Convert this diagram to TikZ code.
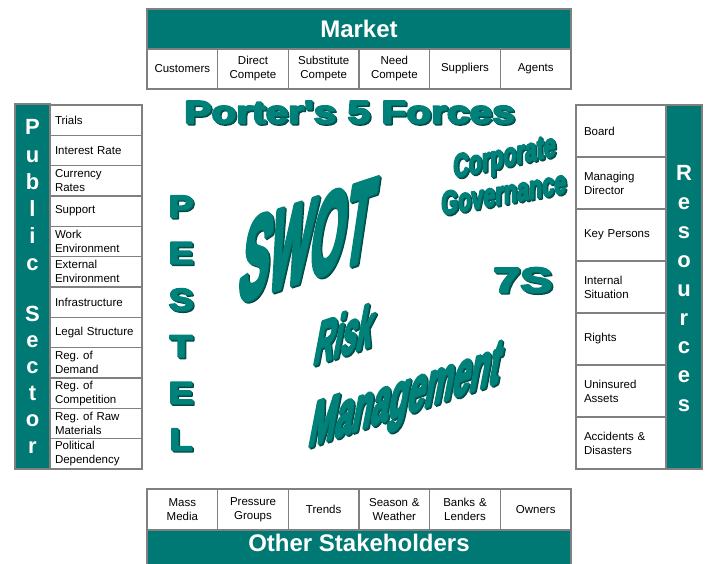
\documentclass[tikz,border=0pt]{standalone}
\usepackage{fontspec}
\setmainfont{Liberation Sans}
\newfontfamily\heavyfont[BoldFeatures={FakeBold=5}]{Liberation Sans}
\frenchspacing
\definecolor{teal1}{RGB}{0,120,115}
\definecolor{wateal}{RGB}{0,130,122}
\definecolor{wadark}{RGB}{0,70,66}
\definecolor{wamid}{RGB}{0,98,93}
\definecolor{bord}{RGB}{128,128,128}
\tikzset{
 banner/.style={draw=bord, line width=1.6pt, fill=teal1, text=white, inner sep=0pt,
   font=\fontsize{24}{28}\selectfont\bfseries},
 vbar/.style={draw=bord, line width=1.6pt, fill=teal1, inner sep=0pt},
 cellfont/.style={font=\fontsize{11.5}{14}\selectfont},
 hcell/.style={draw=bord, line width=1.6pt, fill=white, cellfont, inner ysep=0pt,
   minimum height=40pt, inner xsep=3pt, text width=64.67pt, align=center},
 lcell/.style={draw=bord, line width=1.6pt, fill=white, cellfont, inner ysep=0pt,
   minimum height=30.33pt, inner xsep=5pt, text width=82pt, align=left},
 rcell/.style={draw=bord, line width=1.6pt, fill=white, cellfont, inner ysep=0pt,
   minimum height=52pt, inner xsep=8pt, text width=74pt, align=left},
 vlet/.style={anchor=base, inner sep=0pt, text=white, font=\fontsize{22}{22}\selectfont\bfseries},
 wa/.style={transform shape, inner sep=0pt, text=wateal},
 waw/.style={nodes={anchor=base west}},
 wac/.style={nodes={anchor=base}},
}
% #1 name, #2 x, #3 y, #4 scope transform/options, #5 text
\newcommand\wart[5]{%
 \begin{scope}[line join=round, shift={({#2+1.8},{#3-1.8})},#4] \node[wa,text=wadark] at (0,0) {#5}; \end{scope}
 \begin{scope}[line join=round, shift={({#2+0.9},{#3-0.9})},#4] \node[wa,text=wamid] at (0,0) {#5}; \end{scope}
 \begin{scope}[line join=round, shift={({#2},{#3})},#4] \node[wa] (#1) at (0,0) {#5}; \end{scope}}
\begin{document}
\begin{tikzpicture}[x=1pt,y=1pt]
\useasboundingbox (0,0) rectangle (706,-564);
\fill[white] (0,0) rectangle (706,-564);

% Market
\node[banner, minimum width=424pt, minimum height=40pt] (market) at (359,-29) {Market};
\foreach \t [count=\i] in {Customers,{Direct\\Compete},{Substitute\\Compete},{Need\\Compete},Suppliers,Agents}
  \node[hcell] (mk\i) at ({147+70.67*(\i-0.5)},-69) {\t};

% Other stakeholders
\foreach \t [count=\i] in {{Mass\\Media},{Pressure\\Groups},Trends,{Season \&\\Weather},{Banks \&\\Lenders},Owners}
  \node[hcell, minimum height=41pt] (os\i) at ({147+70.67*(\i-0.5)},-509.5) {\t};
\node[banner, minimum width=424pt, minimum height=40pt, text depth=14pt] (stake) at (359,-550) {Other Stakeholders};

% Public sector
\node[vbar, minimum width=35pt, minimum height=365pt] (pubsec) at (32.5,-286.5) {};
\foreach \t [count=\i] in {Trials,Interest Rate,{Currency\\Rates},Support,{Work\\Environment},{External\\Environment},Infrastructure,Legal Structure,{Reg. of\\Demand},{Reg. of\\Competition},{Reg. of Raw\\Materials},{Political\\Dependency}}
  \node[lcell] (ps\i) at (96,{-(105+30.33*(\i-0.5))}) {\t};
\foreach \c [count=\i] in {P,u,b,l,i,c}
  \node[vlet] (pub\i) at (32.5,{-(135+27.1*(\i-1))}) {\c};
\foreach \c [count=\i] in {S,e,c,t,o,r}
  \node[vlet] (sec\i) at (32.5,{-(321+26.4*(\i-1))}) {\c};

% Resources
\node[vbar, minimum width=36pt, minimum height=364pt] (res) at (684,-287) {};
\foreach \t [count=\i] in {Board,{Managing\\Director},Key Persons,{Internal\\Situation},Rights,{Uninsured\\Assets},{Accidents \&\\Disasters}}
  \node[rcell] (rs\i) at (621,{-(105+52*(\i-0.5))}) {\t};
\foreach \c [count=\i] in {R,e,s,o,u,r,c,e,s}
  \node[vlet] (resl\i) at (684,{-(181+28.8*(\i-1))}) {\c};

% Word art
\wart{porter}{184}{-123}{waw, xscale=1.27, nodes={font=\fontsize{32}{32}\selectfont\heavyfont\bfseries}}{Porter's 5 Forces}
\wart{corp}{453}{-178}{waw, yslant=0.22, xscale=0.65, nodes={font=\fontsize{33}{33}\selectfont\heavyfont\bfseries}}{Corporate}
\wart{gov}{441}{-215}{waw, yslant=0.18, xscale=0.655, nodes={font=\fontsize{33}{33}\selectfont\heavyfont\bfseries}}{Governance}
\wart{swot}{236}{-302}{waw, yslant=0.33, xscale=0.39, xslant=0.4, nodes={font=\fontsize{112}{112}\selectfont\heavyfont\bfseries}}{SWOT}
\wart{risk}{312}{-365}{waw, yslant=0.33, xscale=0.47, xslant=0.43, nodes={font=\fontsize{58}{58}\selectfont\heavyfont\bfseries}}{Risk}
\wart{mgmt}{307}{-447}{waw, yslant=0.34, xscale=0.51, xslant=0.4, nodes={font=\fontsize{61}{61}\selectfont\heavyfont\bfseries}}{Management}
\wart{sevens}{493}{-292}{waw, xscale=1.38, nodes={font=\fontsize{35}{35}\selectfont\heavyfont\bfseries}}{7S}
\foreach \c [count=\i] in {P,E,S,T,E,L}
  {\wart{pestel\i}{181}{-217-46.6*(\i-1)}{wac, xscale=1.2, nodes={font=\fontsize{31}{31}\selectfont\heavyfont\bfseries}}{\c}}
\end{tikzpicture}
\end{document}
